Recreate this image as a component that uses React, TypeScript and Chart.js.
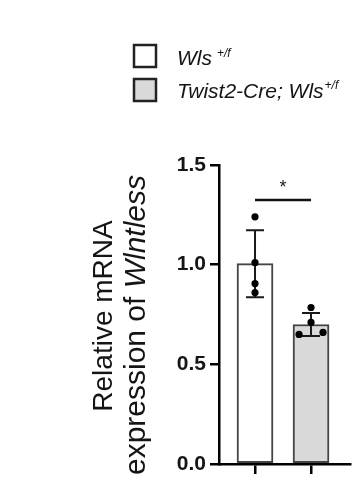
import React, { useEffect, useRef } from "react";
import { Chart, registerables } from "chart.js";

Chart.register(...registerables);

// ---- data ----
const groups = ["Wls", "Twist2-Cre; Wls"];
const groupSup = ["+/f", "+/f"];
const groupPos = [1, 2];
const means = [1.005, 0.70];
const sds = [0.168, 0.058];
const group1Points = [1.24, 1.01, 0.905, 0.86];
const group1Offsets = [0, 0, 0, 0];
const group2Points = [0.785, 0.71, 0.65, 0.66];
const group2Offsets = [0, 0, -0.214, 0.214];
const yTicks = [0, 0.5, 1.0, 1.5];
const sigLevel = 1.325;
const sigLabel = "*";
const yTitleLine1 = "Relative mRNA";
const yTitleLine2a = "expression of ";
const yTitleLine2b = "Wlntless";

const barFills = ["#ffffff", "#d9d9d9"];
const FONT = "'Liberation Sans', Arial, sans-serif";
const INK = "#151515";

const overlayPlugin = {
  id: "overlay",
  afterDatasetDraw(chart: any, args: any) {
    if (args.index !== 0) return;
    const ctx = chart.ctx;
    const x = chart.scales.x;
    const y = chart.scales.y;
    ctx.save();
    ctx.strokeStyle = "#1a1a1a";
    ctx.lineWidth = 2;
    means.forEach((m, i) => {
      const px = x.getPixelForValue(groupPos[i]);
      const top = y.getPixelForValue(m + sds[i]);
      const bot = y.getPixelForValue(m - sds[i]);
      ctx.beginPath();
      ctx.moveTo(px, top);
      ctx.lineTo(px, bot);
      ctx.moveTo(px - 9, top);
      ctx.lineTo(px + 9, top);
      ctx.moveTo(px - 9, bot);
      ctx.lineTo(px + 9, bot);
      ctx.stroke();
    });
    ctx.restore();
  },
  afterDraw(chart: any) {
    const ctx = chart.ctx;
    const x = chart.scales.x;
    const y = chart.scales.y;
    ctx.save();
    // significance bar
    const sy = y.getPixelForValue(sigLevel);
    const x1 = x.getPixelForValue(groupPos[0]);
    const x2 = x.getPixelForValue(groupPos[1]);
    ctx.strokeStyle = "#111";
    ctx.lineWidth = 2.5;
    ctx.beginPath();
    ctx.moveTo(x1, sy);
    ctx.lineTo(x2, sy);
    ctx.stroke();
    ctx.fillStyle = INK;
    ctx.font = `18px ${FONT}`;
    ctx.textAlign = "center";
    ctx.textBaseline = "alphabetic";
    ctx.fillText(sigLabel, (x1 + x2) / 2, sy - 7);

    // y title
    ctx.textAlign = "left";
    ctx.save();
    ctx.translate(112, 316);
    ctx.rotate(-Math.PI / 2);
    ctx.font = `28px ${FONT}`;
    const w1 = ctx.measureText(yTitleLine1).width;
    ctx.fillText(yTitleLine1, -w1 / 2, 0);
    ctx.restore();

    ctx.save();
    ctx.translate(145, 325);
    ctx.rotate(-Math.PI / 2);
    ctx.font = `30px ${FONT}`;
    const wa = ctx.measureText(yTitleLine2a).width;
    ctx.font = `italic 30px ${FONT}`;
    const wb = ctx.measureText(yTitleLine2b).width;
    const start = -(wa + wb) / 2;
    ctx.font = `30px ${FONT}`;
    ctx.fillText(yTitleLine2a, start, 0);
    ctx.font = `italic 30px ${FONT}`;
    ctx.fillText(yTitleLine2b, start + wa, 0);
    ctx.restore();

    // legend
    const boxTops = [45, 79];
    const baselines = [65, 98];
    const supBase = [57, 89];
    groups.forEach((g, i) => {
      ctx.fillStyle = barFills[i];
      ctx.fillRect(134, boxTops[i], 22, 22);
      ctx.strokeStyle = "#222";
      ctx.lineWidth = 2.5;
      ctx.strokeRect(134, boxTops[i], 22, 22);
      ctx.fillStyle = INK;
      ctx.font = `italic 21px ${FONT}`;
      ctx.fillText(g, 177, baselines[i]);
      const gw = ctx.measureText(g).width;
      ctx.font = `italic 12px ${FONT}`;
      ctx.fillText(groupSup[i], 177 + gw + (i === 0 ? 5 : 1), supBase[i]);
    });
    ctx.restore();
  },
};

export default function App() {
  const ref = useRef<HTMLCanvasElement | null>(null);
  useEffect(() => {
    document.body.style.margin = "0";
    const canvas = ref.current!;
    const scatterData = [
      ...group1Points.map((v, i) => ({ x: groupPos[0] + group1Offsets[i], y: v })),
      ...group2Points.map((v, i) => ({ x: groupPos[1] + group2Offsets[i], y: v })),
    ];
    const chart = new Chart(canvas, {
      type: "bar",
      data: {
        datasets: [
          {
            type: "bar",
            data: means.map((m, i) => ({ x: groupPos[i], y: m })),
            backgroundColor: barFills,
            borderColor: "#444",
            borderWidth: 2,
            borderSkipped: false,
            barThickness: 36,
            order: 2,
          } as any,
          {
            type: "scatter",
            data: scatterData,
            backgroundColor: "#000",
            borderWidth: 0,
            pointRadius: 3.6,
            order: 1,
          } as any,
        ],
      },
      options: {
        responsive: false,
        animation: false,
        devicePixelRatio: 1,
        layout: { padding: { top: 165, right: 11, left: 0, bottom: 0 } },
        plugins: { legend: { display: false }, tooltip: { enabled: false } },
        scales: {
          x: {
            type: "linear",
            offset: false,
            min: 0.357,
            max: 2.696,
            afterBuildTicks: (s: any) => {
              s.ticks = groupPos.map((v) => ({ value: v }));
            },
            afterFit: (s: any) => {
              s.height = 28;
            },
            ticks: { callback: () => "", padding: 0 },
            grid: { offset: false, drawOnChartArea: false, tickLength: 10, color: "#000", lineWidth: 2.5 },
            border: { display: true, color: "#000", width: 2.5 },
          },
          y: {
            min: 0,
            max: 1.5,
            afterBuildTicks: (s: any) => {
              s.ticks = yTicks.map((v) => ({ value: v }));
            },
            afterFit: (s: any) => {
              s.width = 219;
            },
            ticks: {
              callback: (v: any) => Number(v).toFixed(1),
              font: { family: FONT, size: 21, weight: "bold" },
              color: INK,
              padding: 4,
            },
            grid: { drawOnChartArea: false, tickLength: 9, color: "#000", lineWidth: 2.5 },
            border: { display: true, color: "#000", width: 2.5 },
          },
        },
      } as any,
      plugins: [overlayPlugin],
    });
    return () => chart.destroy();
  }, []);
  return <canvas ref={ref} width={361} height={492} style={{ display: "block" }} />;
}
